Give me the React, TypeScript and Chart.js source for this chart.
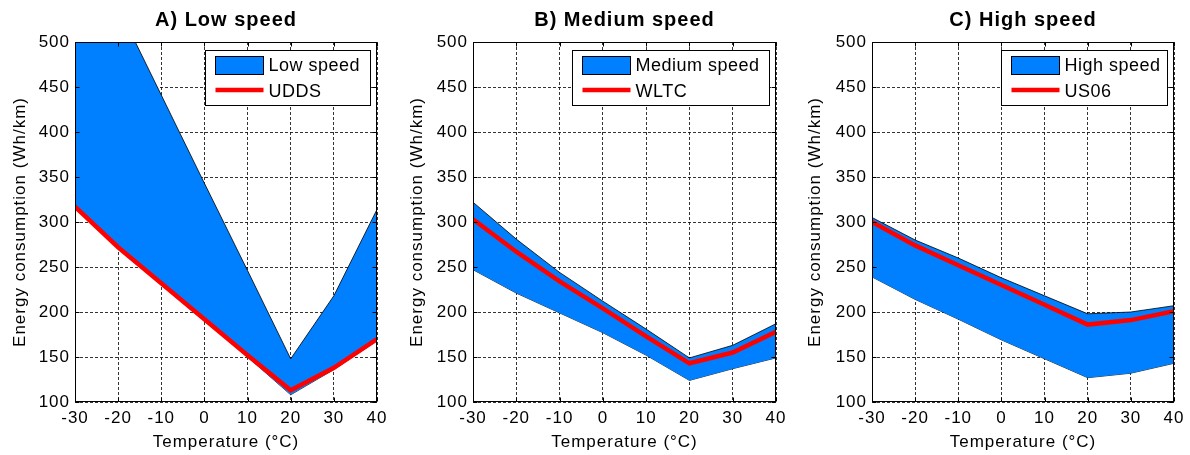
import React, { useEffect, useRef } from "react";
import { Chart, registerables } from "chart.js";

Chart.register(...registerables);

// ---------- Data ----------
const temperatures = [-30, -20, -10, 0, 10, 20, 30, 40];
const xTickValues = [-30, -20, -10, 0, 10, 20, 30, 40];
const yTickValues = [100, 150, 200, 250, 300, 350, 400, 450, 500];

const lowUpper = [637, 539, 441, 343, 246, 148, 218, 314];
const lowLower = [315, 270, 230, 190, 150, 108, 136, 168];
const uddsLine = [317, 272, 232, 192, 152, 113, 138, 170];

const mediumUpper = [322, 281, 244, 212, 181, 149, 163, 187];
const mediumLower = [247, 221, 199, 177, 152, 124, 137, 149];
const wltcLine = [303, 267, 234, 204, 173, 143, 155, 178];

const highUpper = [305, 280, 260, 238, 218, 198, 200, 207];
const highLower = [239, 214, 192, 169, 148, 127, 132, 143];
const us06Line = [300, 274, 252, 230, 208, 186, 191, 201];

const panelTitles = ["A) Low speed", "B) Medium speed", "C) High speed"];
const bandLabels = ["Low speed", "Medium speed", "High speed"];
const lineLabels = ["UDDS", "WLTC", "US06"];
const xAxisTitle = "Temperature (\u00B0C)";
const yAxisTitle = "Energy consumption (Wh/km)";

// ---------- Styles ----------
const FONT = "'Liberation Sans', Arial, Helvetica, sans-serif";
const BLUE = "#0080ff";
const RED = "#ff0000";

type PanelCfg = {
  left: number;
  width: number;
  plotLeft: number;
  plotRight: number;
  legendWidth: number;
  title: string;
  bandLabel: string;
  lineLabel: string;
  upper: number[];
  lower: number[];
  line: number[];
};

const panels: PanelCfg[] = [
  { left: 0, width: 397, plotLeft: 75, plotRight: 377, legendWidth: 165, title: panelTitles[0], bandLabel: bandLabels[0], lineLabel: lineLabels[0], upper: lowUpper, lower: lowLower, line: uddsLine },
  { left: 397, width: 398, plotLeft: 76, plotRight: 379, legendWidth: 197, title: panelTitles[1], bandLabel: bandLabels[1], lineLabel: lineLabels[1], upper: mediumUpper, lower: mediumLower, line: wltcLine },
  { left: 795, width: 395, plotLeft: 77, plotRight: 379, legendWidth: 166, title: panelTitles[2], bandLabel: bandLabels[2], lineLabel: lineLabels[2], upper: highUpper, lower: highLower, line: us06Line },
];

function Panel({ cfg }: { cfg: PanelCfg }) {
  const ref = useRef<HTMLCanvasElement>(null);

  useEffect(() => {
    if (!ref.current) return;
    const toPts = (arr: number[]) => temperatures.map((t, i) => ({ x: t, y: arr[i] }));

    const spacingPlugin = {
      id: "spacing",
      beforeDraw(chart: any) {
        try {
          (chart.ctx as any).letterSpacing = "1px";
        } catch (e) {}
      },
    };

    const framePlugin = {
      id: "frameLegend",
      afterDraw(chart: any) {
        const { ctx, chartArea, scales } = chart;
        ctx.save();
        ctx.setLineDash([]);
        // axes frame
        ctx.strokeStyle = "#000";
        ctx.lineWidth = 1;
        const l = Math.round(chartArea.left) + 0.5;
        const t = Math.round(chartArea.top) + 0.5;
        const r = Math.round(chartArea.right) - 0.5;
        const b = Math.round(chartArea.bottom) - 0.5;

        // legend
        const w = cfg.legendWidth;
        const h = 55;
        const bx = Math.round(chartArea.right - 7 - w) + 0.5;
        const by = Math.round(chartArea.top + 8) + 0.5;
        ctx.fillStyle = "#fff";
        ctx.fillRect(bx, by, w, h);
        ctx.strokeStyle = "#000";
        ctx.lineWidth = 1;
        ctx.strokeRect(bx, by, w, h);

        ctx.fillStyle = BLUE;
        ctx.fillRect(bx + 10, by + 6, 48, 18);
        ctx.strokeRect(bx + 10, by + 6, 48, 18);

        ctx.strokeStyle = RED;
        ctx.lineWidth = 4.5;
        ctx.beginPath();
        ctx.moveTo(bx + 10, by + 39.5);
        ctx.lineTo(bx + 58, by + 39.5);
        ctx.stroke();

        (ctx as any).letterSpacing = "0.5px";
        ctx.fillStyle = "#000";
        ctx.font = `18px ${FONT}`;
        ctx.textBaseline = "middle";
        ctx.textAlign = "left";
        ctx.fillText(cfg.bandLabel, bx + 63, by + 16);
        ctx.fillText(cfg.lineLabel, bx + 63, by + 42);

        // frame + inward tick marks (drawn on top)
        ctx.strokeStyle = "#000";
        ctx.lineWidth = 1;
        ctx.strokeRect(l, t, r - l, b - t);
        const tl = 4;
        ctx.beginPath();
        xTickValues.forEach((v) => {
          const px = Math.round(scales.x.getPixelForValue(v)) + 0.5;
          ctx.moveTo(px, t);
          ctx.lineTo(px, t + tl);
          ctx.moveTo(px, b);
          ctx.lineTo(px, b - tl);
        });
        yTickValues.forEach((v) => {
          const py = Math.round(scales.y.getPixelForValue(v)) + 0.5;
          ctx.moveTo(l, py);
          ctx.lineTo(l + tl, py);
          ctx.moveTo(r, py);
          ctx.lineTo(r - tl, py);
        });
        ctx.stroke();
        ctx.restore();
      },
    };

    const chart = new Chart(ref.current, {
      type: "line",
      data: {
        datasets: [
          {
            label: cfg.lineLabel,
            data: toPts(cfg.line),
            borderColor: RED,
            borderWidth: 4.5,
            pointRadius: 0,
            fill: false,
            tension: 0,
          },
          {
            label: cfg.bandLabel,
            data: toPts(cfg.upper),
            borderColor: "#000",
            borderWidth: 0.8,
            backgroundColor: BLUE,
            pointRadius: 0,
            fill: "+1",
            tension: 0,
          },
          {
            label: cfg.bandLabel + " (lower)",
            data: toPts(cfg.lower),
            borderColor: "#000",
            borderWidth: 0.8,
            pointRadius: 0,
            fill: false,
            tension: 0,
          },
        ],
      },
      options: {
        responsive: false,
        animation: false,
        layout: { padding: { left: 0, right: cfg.width - cfg.plotRight, top: 0, bottom: 0 } },
        plugins: {
          legend: { display: false },
          tooltip: { enabled: false },
          title: {
            display: true,
            text: cfg.title,
            fullSize: false,
            color: "#000",
            font: { family: FONT, size: 20, weight: "bold" },
            padding: { top: 8, bottom: 10 },
          },
        },
        scales: {
          x: {
            type: "linear",
            min: -30,
            max: 40,
            afterBuildTicks: (s: any) => {
              s.ticks = xTickValues.map((v) => ({ value: v }));
            },
            afterFit: (s: any) => {
              s.height = 53;
            },
            ticks: {
              color: "#000",
              font: { family: FONT, size: 17 },
              padding: 6,
              maxRotation: 0,
              autoSkip: false,
              callback: (v: any) => String(v),
            },
            grid: { color: "#000", lineWidth: 0.8, drawTicks: false },
            border: { display: false, dash: [3, 2] },
            title: {
              display: true,
              text: xAxisTitle,
              color: "#000",
              font: { family: FONT, size: 17 },
              padding: { top: 0, bottom: 2 },
            },
          },
          y: {
            type: "linear",
            min: 100,
            max: 500,
            afterBuildTicks: (s: any) => {
              s.ticks = yTickValues.map((v) => ({ value: v }));
            },
            afterFit: (s: any) => {
              s.width = cfg.plotLeft;
            },
            ticks: {
              color: "#000",
              font: { family: FONT, size: 17 },
              padding: 5,
              autoSkip: false,
              callback: (v: any) => String(v),
            },
            grid: { color: "#000", lineWidth: 0.8, drawTicks: false },
            border: { display: false, dash: [3, 2] },
            title: {
              display: true,
              text: yAxisTitle,
              color: "#000",
              font: { family: FONT, size: 17 },
              padding: { top: 10, bottom: 0 },
            },
          },
        },
      } as any,
      plugins: [spacingPlugin, framePlugin],
    });
    return () => chart.destroy();
  }, [cfg]);

  return (
    <canvas
      ref={ref}
      width={cfg.width}
      height={455}
      style={{ position: "absolute", left: cfg.left, top: 0, width: cfg.width, height: 455 }}
    />
  );
}

export default function App() {
  return (
    <div style={{ position: "absolute", left: 0, top: 0, width: 1190, height: 455, background: "#fff" }}>
      {panels.map((p, i) => (
        <Panel key={i} cfg={p} />
      ))}
    </div>
  );
}
